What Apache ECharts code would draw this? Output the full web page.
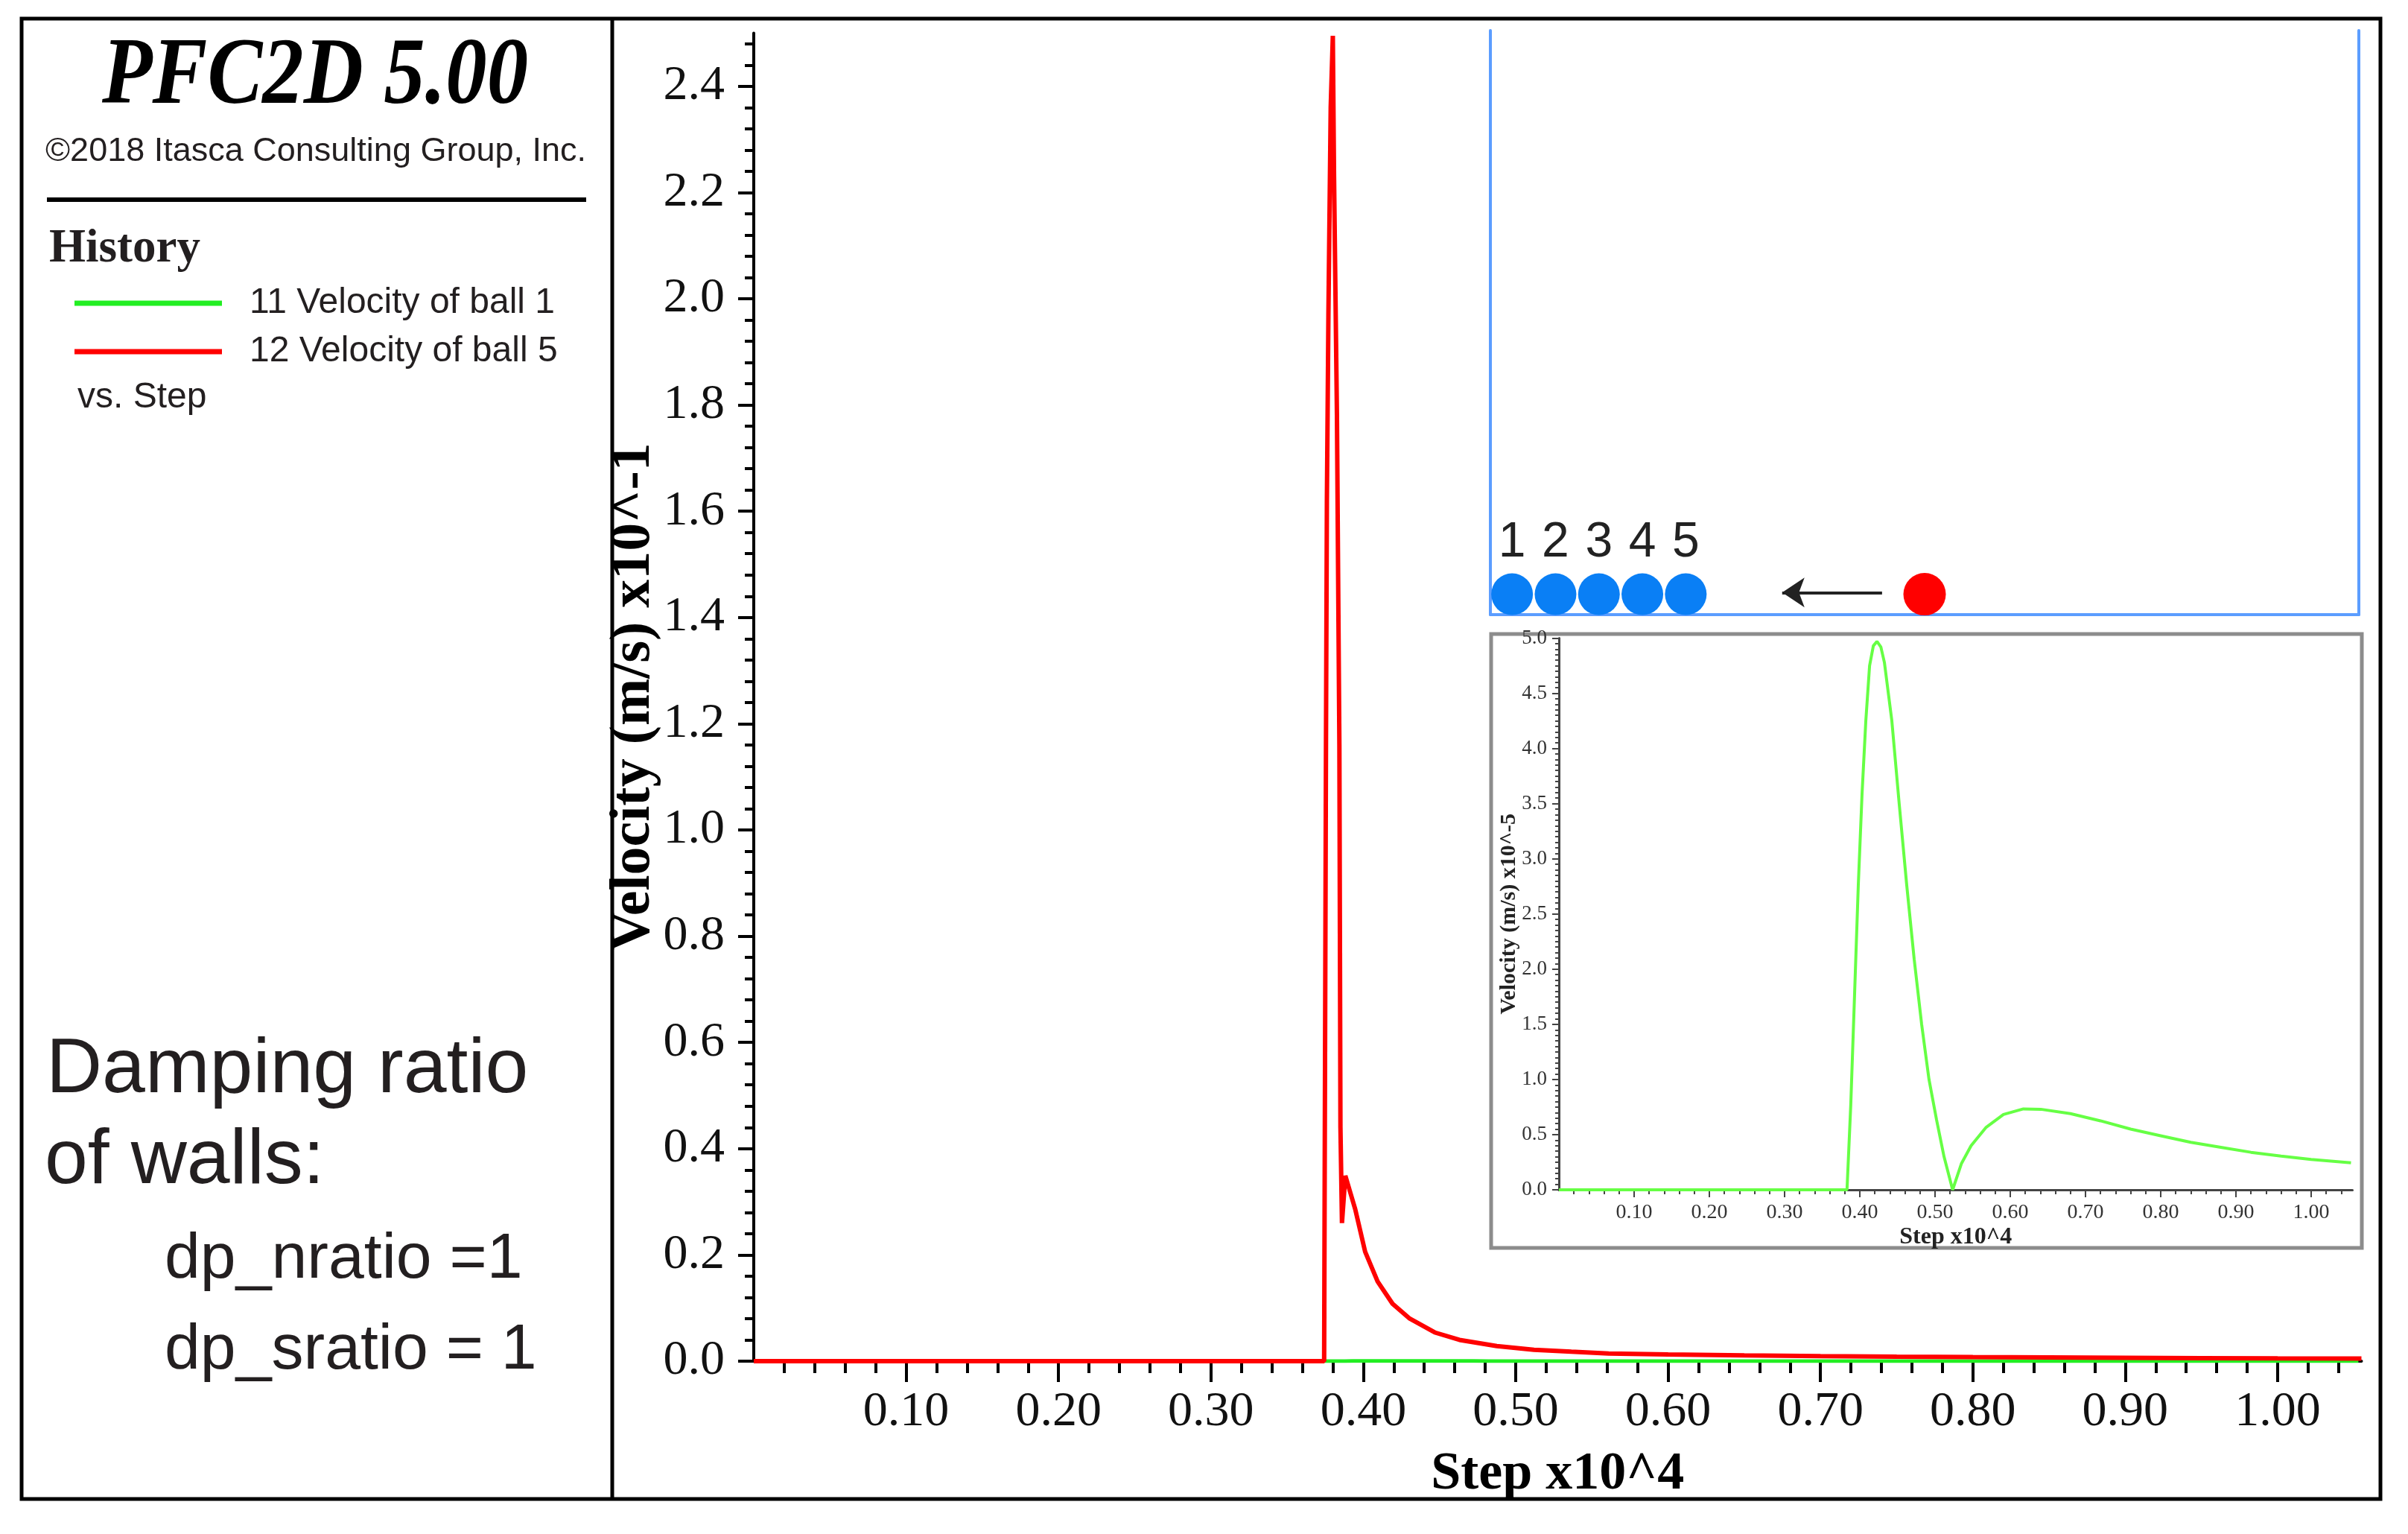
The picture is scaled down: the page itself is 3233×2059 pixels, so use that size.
<!DOCTYPE html>
<html>
<head>
<meta charset="utf-8">
<title>PFC2D 5.00 - velocity history</title>
<script src="https://cdn.jsdelivr.net/npm/echarts@6/dist/echarts.min.js"></script>
<style>
  html, body { margin: 0; padding: 0; background: #fff; }
  #chart { width: 3233px; height: 2059px; }
</style>
</head>
<body>
<div id="chart"></div>
<script>
// ball 5, main plot (velocity in x10^-1 m/s, step in x10^4)
const redStep = [0, 0.3743, 0.3755, 0.3761, 0.3771, 0.3786, 0.3800, 0.3808, 0.3827, 0.3843, 0.3850, 0.3860,
    0.3882, 0.3914, 0.3947, 0.4012, 0.4094, 0.4192, 0.4305, 0.4469, 0.4631, 0.4876, 0.5120, 0.5365, 0.5610,
    0.6000, 0.6500, 0.7000, 0.7500, 0.8000, 0.8500, 0.9000, 0.9500, 1.0000, 1.0550];
const redVel = [0, 0, 1.16, 1.62, 1.97, 2.36, 2.495, 2.23, 1.78, 1.16, 0.44, 0.26,
    0.349, 0.318, 0.286, 0.206, 0.150, 0.108, 0.080, 0.054, 0.040, 0.0285, 0.0215, 0.0178, 0.0145,
    0.0125, 0.0108, 0.0095, 0.0085, 0.0077, 0.0070, 0.0063, 0.0057, 0.0052, 0.0048];

// ball 1 (velocity in x10^-5 m/s)
const greenStep = [0, 0.383, 0.388, 0.393, 0.398, 0.403, 0.408, 0.413, 0.418, 0.4228, 0.428, 0.4327,
    0.4426, 0.4525, 0.4624, 0.4723, 0.4822, 0.492, 0.502, 0.512, 0.5234, 0.535, 0.548, 0.568, 0.591,
    0.6175, 0.6406, 0.68, 0.72, 0.76, 0.80, 0.84, 0.88, 0.92, 0.96, 1.00, 1.053];
const greenVel = [0, 0, 0.77, 1.76, 2.76, 3.59, 4.25, 4.75, 4.93, 4.97, 4.92, 4.78,
    4.25, 3.49, 2.76, 2.09, 1.50, 1.00, 0.635, 0.30, 0, 0.236, 0.40, 0.567, 0.683,
    0.733, 0.73, 0.69, 0.625, 0.55, 0.49, 0.43, 0.385, 0.34, 0.305, 0.275, 0.245];

const xTicks = [0.1, 0.2, 0.3, 0.4, 0.5, 0.6, 0.7, 0.8, 0.9, 1.0];
const yTicks = [0, 0.2, 0.4, 0.6, 0.8, 1.0, 1.2, 1.4, 1.6, 1.8, 2.0, 2.2, 2.4];
const insetYTicks = [0, 0.5, 1.0, 1.5, 2.0, 2.5, 3.0, 3.5, 4.0, 4.5, 5.0];

// sketch of the test: 5 balls against the wall, striker coming in (units: ball diameters)
const ballX = [0.5, 1.5, 2.5, 3.5, 4.5];
const ballLabels = ['1', '2', '3', '4', '5'];
const strikerX = [10.0];
const ballLevel = 0.47;
const arrowPath = [[9.02, 0.51], [6.72, 0.51]];

const SERIF = '"Liberation Serif", "Times New Roman", serif';
const SANS = '"Liberation Sans", Arial, sans-serif';
const INK = '#231f20';

const pairs = (xs, ys, k) => xs.map((x, i) => [x, ys[i] * (k || 1)]);

const minorList = (max, step, major) => {
    const out = [];
    for (let i = 1; i * step < max - 1e-9; i += 1) {
        const v = +(i * step).toFixed(4);
        if (Math.abs(v / major - Math.round(v / major)) > 1e-6) {
            out.push(v);
        }
    }
    return out;
};

const hidden = { show: false };

const minorAxis = (gridIndex, max, values, len, color, width, position) => ({
    type: 'value',
    gridIndex: gridIndex,
    position: position,
    min: 0,
    max: max,
    axisLine: { show: false, onZero: false },
    axisLabel: hidden,
    splitLine: hidden,
    axisTick: { show: true, customValues: values, length: len, lineStyle: { color: color, width: width } }
});

const setxAxis = () => [
    {
        type: 'value', gridIndex: 0, position: 'bottom', min: 0, max: 1.055, interval: 0.1,
        name: 'Step x10^4', nameLocation: 'middle', nameGap: 116, nameMoveOverlap: false,
        nameTextStyle: { fontFamily: SERIF, fontWeight: 'bold', fontSize: 72, color: '#000' },
        axisLine: { show: true, onZero: false, lineStyle: { color: '#000', width: 4 } },
        axisTick: { show: true, customValues: xTicks, length: 28, lineStyle: { color: '#000', width: 4 } },
        axisLabel: {
            customValues: xTicks, formatter: (v) => v.toFixed(2), margin: 36,
            fontFamily: SERIF, fontSize: 66, color: '#111'
        },
        splitLine: hidden
    },
    minorAxis(0, 1.055, minorList(1.055, 0.02, 0.1), 16, '#000', 4, 'bottom'),
    {
        type: 'value', gridIndex: 1, position: 'bottom', min: 0, max: 1.055, interval: 0.1,
        name: 'Step x10^4', nameLocation: 'middle', nameGap: 48, nameMoveOverlap: false,
        nameTextStyle: { fontFamily: SERIF, fontWeight: 'bold', fontSize: 32, color: '#222' },
        axisLine: { show: true, onZero: false, lineStyle: { color: '#444', width: 3 } },
        axisTick: { show: true, customValues: xTicks, length: 10, lineStyle: { color: '#444', width: 2 } },
        axisLabel: {
            customValues: xTicks, formatter: (v) => v.toFixed(2), margin: 17,
            fontFamily: SERIF, fontSize: 28, color: '#333'
        },
        splitLine: hidden
    },
    minorAxis(1, 1.055, minorList(1.055, 0.02, 0.1), 6, '#444', 2, 'bottom'),
    {
        type: 'value', gridIndex: 2, min: 0, max: 20,
        axisLine: { show: true, onZero: false, lineStyle: { color: '#5b9dff', width: 4 } },
        axisTick: hidden, axisLabel: hidden, splitLine: hidden
    }
];

const setyAxis = () => [
    {
        type: 'value', gridIndex: 0, position: 'left', min: 0, max: 2.5, interval: 0.2,
        name: 'Velocity (m/s) x10^-1', nameLocation: 'middle', nameGap: 123, nameMoveOverlap: false,
        nameTextStyle: { fontFamily: SERIF, fontWeight: 'bold', fontSize: 76, color: '#000' },
        axisLine: { show: true, lineStyle: { color: '#000', width: 4 } },
        axisTick: { show: true, customValues: yTicks, length: 21, lineStyle: { color: '#000', width: 4 } },
        axisLabel: {
            customValues: yTicks, formatter: (v) => v.toFixed(1), margin: 39,
            fontFamily: SERIF, fontSize: 66, color: '#111'
        },
        splitLine: hidden
    },
    minorAxis(0, 2.5, minorList(2.5, 0.04, 0.2), 12, '#000', 4, 'left'),
    {
        type: 'value', gridIndex: 1, position: 'left', min: 0, max: 5, interval: 0.5,
        name: 'Velocity (m/s) x10^-5', nameLocation: 'middle', nameGap: 52, nameMoveOverlap: false,
        nameTextStyle: { fontFamily: SERIF, fontWeight: 'bold', fontSize: 30, color: '#222' },
        axisLine: { show: true, lineStyle: { color: '#444', width: 3 } },
        axisTick: { show: true, customValues: insetYTicks, length: 9, lineStyle: { color: '#444', width: 2 } },
        minorTick: { show: true, splitNumber: 10, length: 5, lineStyle: { color: '#444', width: 2 } },
        axisLabel: {
            customValues: insetYTicks, formatter: (v) => v.toFixed(1), margin: 16,
            fontFamily: SERIF, fontSize: 27, color: '#333'
        },
        splitLine: hidden
    },
    {
        type: 'value', gridIndex: 2, position: 'left', min: 0, max: 13.45,
        axisLine: { show: true, lineStyle: { color: '#5b9dff', width: 4 } },
        axisTick: hidden, axisLabel: hidden, splitLine: hidden
    },
    {
        type: 'value', gridIndex: 2, position: 'right', min: 0, max: 13.45,
        axisLine: { show: true, lineStyle: { color: '#5b9dff', width: 4 } },
        axisTick: hidden, axisLabel: hidden, splitLine: hidden
    }
];

const panelText = (text, x, y, font) => ({
    type: 'text', x: x, y: y,
    style: { text: text, x: 0, y: 0, font: font, fill: INK, align: 'left', verticalAlign: 'middle' }
});

const setGraphic = () => [
    { type: 'rect', shape: { x: 29, y: 25, width: 3167, height: 1987 }, style: { fill: 'transparent', stroke: '#000', lineWidth: 5 } },
    { type: 'line', shape: { x1: 822, y1: 25, x2: 822, y2: 2012 }, style: { stroke: '#000', lineWidth: 5 } },
    { type: 'line', shape: { x1: 63, y1: 268, x2: 787, y2: 268 }, style: { stroke: '#000', lineWidth: 6 } },
    { type: 'rect', shape: { x: 2002, y: 851, width: 1169, height: 824 }, style: { fill: 'transparent', stroke: '#8c8c8c', lineWidth: 5 } },
    {
        type: 'text', x: 423, y: 105, scaleX: 0.865,
        style: { text: 'PFC2D 5.00', x: 0, y: 0, font: 'italic bold 128px ' + SERIF, fill: '#000', align: 'center', verticalAlign: 'middle' }
    },
    {
        type: 'text', x: 424, y: 204,
        style: { text: '\u00a92018 Itasca Consulting Group, Inc.', x: 0, y: 0, font: '45px ' + SANS, fill: INK, align: 'center', verticalAlign: 'middle' }
    },
    panelText('History', 66, 335, 'bold 63px ' + SERIF),
    panelText('vs. Step', 104, 534, '48px ' + SANS),
    panelText('Damping ratio', 62, 1437, '104px ' + SANS),
    panelText('of walls:', 60, 1559, '104px ' + SANS),
    panelText('dp_nratio =1', 221, 1691, '86px ' + SANS),
    panelText('dp_sratio = 1', 221, 1813, '86px ' + SANS)
];

const chartOpt = () => ({
    backgroundColor: '#fff',
    animation: false,
    grid: [
        { left: 1012, top: 44.5, width: 2158.5, height: 1782.5, show: false, outerBoundsMode: 'none' },
        { left: 2093, top: 856.5, width: 1065.5, height: 740.5, show: false, outerBoundsMode: 'none' },
        { left: 2001, top: 41, width: 1166, height: 784, show: false, outerBoundsMode: 'none' }
    ],
    legend: {
        data: ['11 Velocity of ball 1', '12 Velocity of ball 5'],
        orient: 'vertical', left: 100, top: 382, padding: 0,
        itemWidth: 198, itemHeight: 7, itemGap: 15, icon: 'rect',
        selectedMode: false,
        textStyle: { fontFamily: SANS, fontSize: 48, lineHeight: 50, color: INK, padding: [0, 0, 0, 32] }
    },
    xAxis: setxAxis(),
    yAxis: setyAxis(),
    graphic: setGraphic(),
    series: [
        {
            name: '11 Velocity of ball 1',
            type: 'line', xAxisIndex: 0, yAxisIndex: 0,
            // same history as the inset, converted from x10^-5 to x10^-1
            data: pairs(greenStep, greenVel, 1e-4),
            showSymbol: false, z: 2,
            color: '#22ee22',
            itemStyle: { color: '#22ee22' },
            lineStyle: { color: '#22ee22', width: 5 }
        },
        {
            name: '12 Velocity of ball 5',
            type: 'line', xAxisIndex: 0, yAxisIndex: 0,
            data: pairs(redStep, redVel),
            showSymbol: false, z: 3,
            color: '#ff0000',
            itemStyle: { color: '#ff0000' },
            lineStyle: { color: '#ff0000', width: 6 }
        },
        {
            name: 'ball 1 (inset)',
            type: 'line', xAxisIndex: 2, yAxisIndex: 2,
            data: pairs(greenStep, greenVel),
            showSymbol: false, z: 3,
            itemStyle: { color: '#66ff44' },
            lineStyle: { color: '#66ff44', width: 4 }
        },
        {
            name: 'balls',
            type: 'scatter', xAxisIndex: 4, yAxisIndex: 3,
            data: ballX.map((x) => [x, ballLevel]),
            symbolSize: 56, z: 4,
            itemStyle: { color: '#0a7ff5', opacity: 1 },
            label: {
                show: true, position: 'top', distance: 8,
                formatter: (p) => ballLabels[p.dataIndex],
                fontFamily: SANS, fontSize: 66, color: '#222'
            }
        },
        {
            name: 'striker',
            type: 'scatter', xAxisIndex: 4, yAxisIndex: 3,
            data: strikerX.map((x) => [x, ballLevel]),
            symbolSize: 57, z: 4,
            itemStyle: { color: '#ff0000', opacity: 1 }
        },
        {
            name: 'direction',
            type: 'lines', coordinateSystem: 'cartesian2d', xAxisIndex: 4, yAxisIndex: 3,
            data: [{ coords: arrowPath }],
            symbol: ['none', 'arrow'], symbolSize: [26, 30], z: 4,
            lineStyle: { color: '#222', width: 4, opacity: 1, curveness: 0 }
        }
    ]
});

const chart = echarts.init(document.getElementById('chart'), null, { renderer: 'canvas' });
chart.setOption(chartOpt());
</script>
</body>
</html>
